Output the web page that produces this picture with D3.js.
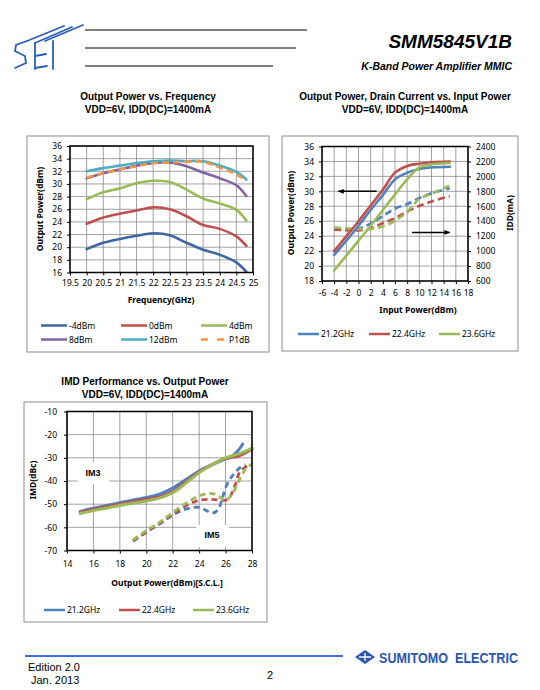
<!DOCTYPE html>
<html><head><meta charset="utf-8">
<script src="https://cdn.jsdelivr.net/npm/d3@7"></script>
<style>body{margin:0;background:#fff}svg{display:block}</style>
</head><body><svg id="c" width="540" height="690"></svg>
<script>
// ---------- Chart 1 data: Output Power vs Frequency ----------
const freqGHz = [20, 20.5, 21, 21.5, 22, 22.5, 23, 23.5, 24, 24.5, 24.8];
const pout_m4dBm = [19.7, 20.7, 21.3, 21.8, 22.2, 21.9, 20.7, 19.6, 18.8, 17.6, 16.1];
const pout_0dBm  = [23.7, 24.7, 25.3, 25.8, 26.3, 26.0, 24.9, 23.5, 22.9, 21.7, 20.2];
const pout_4dBm  = [27.6, 28.7, 29.3, 30.1, 30.5, 30.3, 29.1, 27.7, 26.9, 25.9, 24.2];
const pout_8dBm  = [30.9, 31.7, 32.3, 32.9, 33.3, 33.4, 32.8, 31.8, 30.9, 29.8, 28.1];
const pout_12dBm = [32.0, 32.5, 32.9, 33.3, 33.6, 33.7, 33.6, 33.6, 32.9, 31.9, 30.7];
const pout_P1dB  = [31.0, 31.7, 32.3, 32.8, 33.3, 33.4, 33.5, 33.5, 32.6, 31.5, 30.5];
const freqTicks = [19.5, 20, 20.5, 21, 21.5, 22, 22.5, 23, 23.5, 24, 24.5, 25];
const pout1Ticks = [16, 18, 20, 22, 24, 26, 28, 30, 32, 34, 36];
const legend1 = ["-4dBm", "0dBm", "4dBm", "8dBm", "12dBm", "P1dB"];

// ---------- Chart 2 data: Pout & IDD vs Pin ----------
const pinDbm = [-4, -2, 0, 2, 4, 6, 8, 10, 12, 15];
const pout_21_2 = [21.5, 23.4, 25.4, 27.5, 29.5, 31.6, 32.5, 33.0, 33.2, 33.3];
const pout_22_4 = [22.0, 24.0, 26.0, 28.1, 30.2, 32.5, 33.4, 33.7, 33.9, 34.0];
const pout_23_6 = [19.4, 21.4, 23.4, 25.4, 27.5, 29.6, 31.6, 33.2, 33.6, 33.8];
const idd_21_2 = [1300, 1285, 1300, 1370, 1470, 1570, 1630, 1710, 1775, 1840];
const idd_22_4 = [1285, 1280, 1275, 1305, 1375, 1440, 1530, 1605, 1665, 1735];
const idd_23_6 = [1315, 1305, 1295, 1297, 1330, 1405, 1525, 1700, 1765, 1880];
const pinTicks = [-6, -4, -2, 0, 2, 4, 6, 8, 10, 12, 14, 16, 18];
const pout2Ticks = [18, 20, 22, 24, 26, 28, 30, 32, 34, 36];
const iddTicks = [600, 800, 1000, 1200, 1400, 1600, 1800, 2000, 2200, 2400];
const freqLegend = ["21.2GHz", "22.4GHz", "23.6GHz"];

// ---------- Chart 3 data: IMD vs Output Power ----------
const im3_x_21_2 = [15, 16, 18, 20, 21, 22, 23, 24, 25, 26, 26.5, 27, 27.3];
const im3_21_2   = [-53.1, -51.8, -49.4, -47.1, -45.7, -43.1, -39.4, -35.7, -32.9, -30.5, -29.2, -26.5, -24.0];
const im3_x      = [15, 16, 18, 20, 21, 22, 23, 24, 25, 26, 27, 28];
const im3_22_4   = [-53.6, -52.3, -50.0, -47.9, -46.9, -44.6, -40.3, -36.1, -32.9, -30.2, -29.2, -26.2];
const im3_23_6   = [-54.0, -52.8, -50.6, -48.6, -47.4, -45.1, -40.9, -36.4, -32.9, -30.0, -28.3, -25.8];
const im5_x_21_2 = [19, 20, 21, 22, 23, 24, 24.6, 25, 25.4, 25.7, 26, 26.5, 27.1, 27.5];
const im5_21_2   = [-66.0, -62.1, -58.6, -54.7, -52.1, -51.4, -52.9, -53.9, -52.6, -48.6, -42.9, -37.9, -34.2, -33.0];
const im5_x_22_4 = [19, 20, 21, 22, 23, 24, 25, 26, 26.3, 26.7, 27.1, 27.9];
const im5_22_4   = [-65.7, -62.0, -58.3, -54.3, -50.7, -48.3, -47.9, -48.3, -47.1, -42.1, -35.9, -32.6];
const im5_x_23_6 = [19, 20, 21, 22, 23, 24, 24.7, 25.2, 25.6, 26, 26.5, 27, 27.5, 28];
const im5_23_6   = [-65.4, -61.4, -57.9, -53.6, -49.7, -46.4, -45.4, -45.7, -47.1, -48.3, -45.7, -40.0, -35.0, -32.6];
const poutTicks3 = [14, 16, 18, 20, 22, 24, 26, 28];
const imdTicks = [-70, -60, -50, -40, -30, -20, -10];

// ---------- colours ----------
const C = {blueD:"#3E67A0", blue:"#4F81BD", red:"#C0504D", green:"#9BBB59", purple:"#8064A2", cyan:"#4BACC6", orange:"#F79646"};

const svg = d3.select("#c");
const tickFont = "'Noto Sans', 'Open Sans', sans-serif";
const titleFont = "'Liberation Sans', Arial, sans-serif";
const plain = d => String(d);

// ---------- header ----------
const logo = svg.append("g").attr("stroke", "#2E5FB8").attr("stroke-width", 1.8).attr("fill", "none").attr("stroke-linecap","round");
logo.append("path").attr("d", "M27,41 L16,45 L15,51 L25,56 L26,63 L15,68");
logo.append("path").attr("d", "M35,43 L35,69");
logo.append("path").attr("d", "M35,56 L46,54");
logo.append("path").attr("d", "M35,68 L47,66");
logo.append("path").attr("d", "M53,41 L53,69");
logo.append("path").attr("d", "M27,41 L64,26");
logo.append("path").attr("d", "M35,43 L72,27");
logo.append("path").attr("d", "M45,41 L83,25");
[[30,307],[48,296],[66,273]].forEach(([y,x2]) =>
  svg.append("line").attr("x1",85).attr("x2",x2).attr("y1",y).attr("y2",y).attr("stroke","#000").attr("stroke-width",1));
svg.append("text").attr("x",512).attr("y",48).attr("text-anchor","end").attr("font-family",titleFont)
  .attr("font-size",19).attr("font-weight","bold").attr("font-style","italic").text("SMM5845V1B");
svg.append("text").attr("x",512).attr("y",70).attr("text-anchor","end").attr("font-family",titleFont)
  .attr("font-size",10.5).attr("font-weight","bold").attr("font-style","italic").text("K-Band Power Amplifier MMIC");

// ---------- footer ----------
svg.append("line").attr("x1",25).attr("x2",343).attr("y1",656).attr("y2",656).attr("stroke","#3D6FE0").attr("stroke-width",2);
svg.append("path").attr("d","M355,657 L365,650 L375,657 L365,664 Z").attr("fill","#2A56B0");
svg.append("path").attr("d","M359,657 L371,657 M365,653 L365,661").attr("stroke","#fff").attr("stroke-width",1.3);
svg.append("text").attr("transform","translate(379,663) scale(0.84,1)").attr("font-family",titleFont).attr("font-size",15).attr("font-weight","bold")
  .attr("fill","#2A56B0").attr("xml:space","preserve").style("white-space","pre").text("SUMITOMO  ELECTRIC");
svg.append("text").attr("x",28).attr("y",671).attr("font-family",titleFont).attr("font-size",11).text("Edition 2.0");
svg.append("text").attr("x",31).attr("y",684).attr("font-family",titleFont).attr("font-size",11).text("Jan. 2013");
svg.append("text").attr("x",267).attr("y",679).attr("font-family",titleFont).attr("font-size",11).text("2");

function titles(cx, y, l1, l2) {
  svg.append("text").attr("x",cx).attr("y",y).attr("text-anchor","middle").attr("font-family",titleFont)
    .attr("font-size",10).attr("font-weight","bold").text(l1);
  svg.append("text").attr("x",cx).attr("y",y+13).attr("text-anchor","middle").attr("font-family",titleFont)
    .attr("font-size",10).attr("font-weight","bold").text(l2);
}
function frame(x,y,w,h){
  svg.append("rect").attr("x",x).attr("y",y).attr("width",w).attr("height",h).attr("fill","#fff").attr("stroke","#8c8c8c").attr("stroke-width",1);
}
function gridAndBorder(x, y, xt, yt) {
  const g = svg.append("g");
  const [x0,x1] = x.range(), [y0,y1] = y.range();
  xt.forEach(v => g.append("line").attr("x1",x(v)).attr("x2",x(v)).attr("y1",y0).attr("y2",y1).attr("stroke","#8a8a8a").attr("stroke-width",0.8));
  yt.forEach(v => g.append("line").attr("x1",x0).attr("x2",x1).attr("y1",y(v)).attr("y2",y(v)).attr("stroke","#8a8a8a").attr("stroke-width",0.8));
  return g;
}
function border(x,y){
  const [x0,x1] = x.range(), [y0,y1] = y.range();
  svg.append("rect").attr("x",x0).attr("y",y1).attr("width",x1-x0).attr("height",y0-y1).attr("fill","none").attr("stroke","#000").attr("stroke-width",1.5);
}
function styleAxis(g){
  g.select(".domain").remove();
  g.selectAll("text").attr("font-family",tickFont).attr("font-size",8.5).attr("fill","#000");
  g.selectAll("line").attr("stroke","#000");
}
function axisLabel(x,y,text,rot){
  const t = svg.append("text").attr("text-anchor","middle").attr("font-family",tickFont).attr("font-size",8.5).attr("font-weight","bold");
  if (rot) t.attr("transform",`translate(${x},${y}) rotate(-90)`); else t.attr("x",x).attr("y",y);
  t.text(text);
}
function drawLine(xs, ys, x, y, color, width, dash){
  const data = xs.map((v,i)=>[v, ys[i]]);
  const p = svg.append("path").datum(data).attr("fill","none").attr("stroke",color).attr("stroke-width",width)
    .attr("stroke-linecap", dash ? "butt" : "round").attr("stroke-linejoin","round")
    .attr("d", d3.line().x(d=>x(d[0])).y(d=>y(d[1])).curve(d3.curveCatmullRom.alpha(0.5)));
  if (dash) p.attr("stroke-dasharray", dash);
}
function legendItem(x, y, len, color, label, dash){
  const l = svg.append("line").attr("x1",x).attr("x2",x+len).attr("y1",y).attr("y2",y).attr("stroke",color).attr("stroke-width",2.5);
  if (dash) l.attr("stroke-dasharray",dash);
  svg.append("text").attr("x",x+len+2).attr("y",y+3).attr("font-family",tickFont).attr("font-size",8.5).text(label);
}

// ================= Chart 1 =================
titles(148, 100, "Output Power vs. Frequency", "VDD=6V, IDD(DC)=1400mA");
frame(27, 136, 242, 216);
{
  const x = d3.scaleLinear().domain([19.5, 25]).range([70, 253]);
  const y = d3.scaleLinear().domain([16, 36]).range([272.5, 146]);
  gridAndBorder(x, y, freqTicks, pout1Ticks);
  const series = [pout_m4dBm, pout_0dBm, pout_4dBm, pout_8dBm, pout_12dBm];
  const cols = [C.blueD, C.red, C.green, C.purple, C.cyan];
  series.forEach((s,i)=>drawLine(freqGHz, s, x, y, cols[i], 2.6));
  drawLine(freqGHz, pout_P1dB, x, y, C.orange, 2.6, "7,4");
  border(x,y);
  const ax = svg.append("g").attr("transform","translate(0,272.5)").call(d3.axisBottom(x).tickValues(freqTicks).tickSize(3).tickSizeOuter(0).tickFormat(plain));
  styleAxis(ax); ax.selectAll("text").attr("dy","0.9em");
  const ay = svg.append("g").attr("transform","translate(70,0)").call(d3.axisLeft(y).tickValues(pout1Ticks).tickSize(3).tickSizeOuter(0).tickFormat(plain));
  styleAxis(ay); ay.selectAll("text").attr("dx","-2");
  axisLabel(161, 303, "Frequency(GHz)");
  axisLabel(43, 209, "Output Power(dBm)", true);
  const lc = [C.blueD, C.red, C.green, C.purple, C.cyan, C.orange];
  const lx = [41, 121, 201];
  legend1.forEach((name,i)=>{
    legendItem(lx[i%3], i<3 ? 325.5 : 339.5, 26, lc[i], name, name==="P1dB" ? "7,9" : null);
  });
}

// ================= Chart 2 =================
titles(405, 100, "Output Power, Drain Current vs. Input Power", "VDD=6V, IDD(DC)=1400mA");
frame(282, 136, 236, 215);
{
  const x = d3.scaleLinear().domain([-6, 18]).range([322, 468]);
  const y = d3.scaleLinear().domain([18, 36]).range([281, 146.5]);
  const yR = d3.scaleLinear().domain([600, 2400]).range([281, 146.5]);
  gridAndBorder(x, y, pinTicks, pout2Ticks);
  drawLine(pinDbm, idd_21_2, x, yR, C.blue, 2.6, "7,4");
  drawLine(pinDbm, idd_22_4, x, yR, C.red, 2.6, "7,4");
  drawLine(pinDbm, idd_23_6, x, yR, C.green, 2.6, "7,4");
  drawLine(pinDbm, pout_21_2, x, y, C.blue, 2.6);
  drawLine(pinDbm, pout_22_4, x, y, C.red, 2.6);
  drawLine(pinDbm, pout_23_6, x, y, C.green, 2.6);
  border(x,y);
  const defs = svg.append("defs");
  defs.append("marker").attr("id","ah").attr("viewBox","0 0 10 10").attr("refX",9).attr("refY",5)
    .attr("markerWidth",6).attr("markerHeight",6).attr("markerUnits","userSpaceOnUse").attr("orient","auto")
    .append("path").attr("d","M0,1 L10,5 L0,9 Z").attr("fill","#000");
  svg.append("line").attr("x1",x(3)).attr("x2",x(-3.3)).attr("y1",y(30)).attr("y2",y(30)).attr("stroke","#000").attr("stroke-width",1.5).attr("marker-end","url(#ah)");
  svg.append("line").attr("x1",x(8.8)).attr("x2",x(15)).attr("y1",yR(1250)).attr("y2",yR(1250)).attr("stroke","#000").attr("stroke-width",1.5).attr("marker-end","url(#ah)");
  const ax = svg.append("g").attr("transform","translate(0,281)").call(d3.axisBottom(x).tickValues(pinTicks).tickSize(3).tickSizeOuter(0).tickFormat(plain));
  styleAxis(ax); ax.selectAll("text").attr("dy","1.1em");
  const ay = svg.append("g").attr("transform","translate(322,0)").call(d3.axisLeft(y).tickValues(pout2Ticks).tickSize(3).tickSizeOuter(0).tickFormat(plain));
  styleAxis(ay); ay.selectAll("text").attr("dx","-2");
  const ar = svg.append("g").attr("transform","translate(468,0)").call(d3.axisRight(yR).tickValues(iddTicks).tickSize(3).tickSizeOuter(0).tickFormat(plain));
  styleAxis(ar); ar.selectAll("text").attr("dx","2");
  axisLabel(418, 313, "Input Power(dBm)");
  axisLabel(294, 213, "Output Power(dBm)", true);
  axisLabel(513, 213, "IDD(mA)", true);
  [C.blue, C.red, C.green].forEach((c,i)=>legendItem([298,369,439][i], 334, 21, c, freqLegend[i]));
}

// ================= Chart 3 =================
titles(145, 385, "IMD Performance vs. Output Power", "VDD=6V, IDD(DC)=1400mA");
frame(24, 402, 243, 220);
{
  const x = d3.scaleLinear().domain([14, 28]).range([67, 252]);
  const y = d3.scaleLinear().domain([-70, -10]).range([550.5, 411.5]);
  gridAndBorder(x, y, poutTicks3, imdTicks);
  svg.append("rect").attr("x",78).attr("y",462).attr("width",31).attr("height",22).attr("fill","#fff");
  svg.append("rect").attr("x",196).attr("y",525).attr("width",33).attr("height",22).attr("fill","#fff");
  svg.append("text").attr("x",93).attr("y",476).attr("text-anchor","middle").attr("font-family",titleFont).attr("font-size",9).attr("font-weight","bold").text("IM3");
  svg.append("text").attr("x",212).attr("y",538).attr("text-anchor","middle").attr("font-family",titleFont).attr("font-size",9).attr("font-weight","bold").text("IM5");
  drawLine(im5_x_21_2, im5_21_2, x, y, C.blue, 2.8, "6,4");
  drawLine(im5_x_22_4, im5_22_4, x, y, C.red, 2.8, "6,4");
  drawLine(im5_x_23_6, im5_23_6, x, y, C.green, 2.8, "6,4");
  drawLine(im3_x_21_2, im3_21_2, x, y, C.blue, 3);
  drawLine(im3_x, im3_22_4, x, y, C.red, 3);
  drawLine(im3_x, im3_23_6, x, y, C.green, 3);
  border(x,y);
  const ax = svg.append("g").attr("transform","translate(0,550.5)").call(d3.axisBottom(x).tickValues(poutTicks3).tickSize(3).tickSizeOuter(0).tickFormat(plain));
  styleAxis(ax); ax.selectAll("text").attr("dy","1.2em");
  const ay = svg.append("g").attr("transform","translate(67,0)").call(d3.axisLeft(y).tickValues(imdTicks).tickSize(3).tickSizeOuter(0).tickFormat(plain));
  styleAxis(ay); ay.selectAll("text").attr("dx","-4");
  axisLabel(167, 586, "Output Power(dBm)[S.C.L.]");
  axisLabel(36, 480, "IMD(dBc)", true);
  [C.blue, C.red, C.green].forEach((c,i)=>legendItem([44,119,193][i], 610, 21, c, freqLegend[i]));
}
</script></body></html>
